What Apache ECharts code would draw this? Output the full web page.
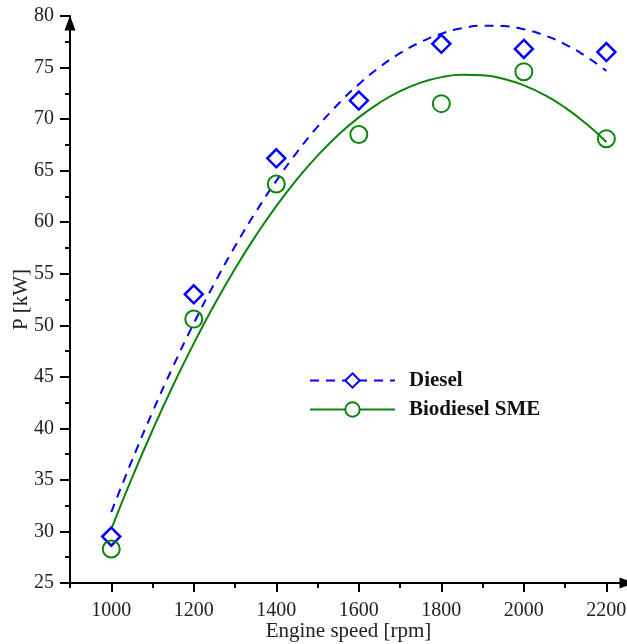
<!DOCTYPE html>
<html>
<head>
<meta charset="utf-8">
<script src="https://cdn.jsdelivr.net/npm/echarts@6/dist/echarts.min.js"></script>
<style>
html,body{margin:0;padding:0;background:#fff;}
#chart{width:627px;height:644px;}
</style>
</head>
<body>
<div id="chart"></div>
<script>
// Measured data points
const speeds = [1000, 1200, 1400, 1600, 1800, 2000, 2200];
const dieselPower = [29.5, 53.0, 66.2, 71.8, 77.3, 76.8, 76.5];
const biodieselPower = [28.3, 50.6, 63.7, 68.5, 71.5, 74.6, 68.1];

// Fitted trend curves, every 50 rpm
const fitSpeeds = [1000, 1050, 1100, 1150, 1200, 1250, 1300, 1350, 1400, 1450, 1500, 1550, 1600,
                   1650, 1700, 1750, 1800, 1850, 1900, 1950, 2000, 2050, 2100, 2150, 2200];
const dieselFit = [31.87, 36.87, 41.59, 46.02, 50.18, 54.06, 57.66, 60.97, 64.01, 66.78, 69.26, 71.46, 73.38,
                   75.02, 76.39, 77.47, 78.28, 78.81, 79.05, 79.02, 78.71, 78.12, 77.25, 76.10, 74.67];
const biodieselFit = [30.23, 35.17, 39.82, 44.18, 48.24, 52.01, 55.49, 58.67, 61.56, 64.15, 66.45, 68.46, 70.17,
                      71.58, 72.71, 73.54, 74.07, 74.31, 74.26, 73.91, 73.27, 72.34, 71.11, 69.59, 67.77];

// Tick values
const xMajorTicks = [1000, 1200, 1400, 1600, 1800, 2000, 2200];
const xMinorTicks = [900, 1100, 1300, 1500, 1700, 1900, 2100];

const BLUE = '#0000ff';
const GREEN = '#0a840a';
const FONT = 'Liberation Serif';

function pairs(xs, ys) { return xs.map((x, i) => [x, ys[i]]); }

const chart = echarts.init(document.getElementById('chart'), null, {renderer: 'canvas'});
chart.setOption({
  animation: false,
  backgroundColor: '#fff',
  grid: {left: 70, right: 0, top: 16, bottom: 61, containLabel: false, outerBoundsMode: 'none'},
  legend: {
    orient: 'vertical',
    left: 304,
    top: 365,
    itemWidth: 85,
    itemHeight: 18,
    itemGap: 8,
    data: ['Diesel', 'Biodiesel SME'],
    textStyle: {fontFamily: FONT, fontWeight: 'bold', fontSize: 21, lineHeight: 18, color: '#111', padding: [0, 0, 0, 9]}
  },
  xAxis: [{
    type: 'value',
    min: 900,
    max: 2250,
    interval: 100,
    position: 'bottom',
    name: 'Engine speed [rpm]',
    nameLocation: 'middle',
    nameGap: 38,
    nameMoveOverlap: false,
    nameTextStyle: {fontFamily: FONT, fontSize: 21, color: '#222'},
    axisLine: {show: true, onZero: false, symbol: ['none', 'triangle'], symbolSize: [11, 15], lineStyle: {color: '#000', width: 2}},
    axisTick: {show: true, customValues: xMajorTicks, length: 9, lineStyle: {color: '#000', width: 2}},
    axisLabel: {customValues: xMajorTicks, formatter: v => String(v), margin: 18, fontFamily: FONT, fontSize: 20, color: '#222'},
    splitLine: {show: false}
  }, {
    type: 'value',
    min: 900,
    max: 2250,
    interval: 100,
    position: 'bottom',
    axisLine: {show: false, onZero: false},
    axisTick: {show: true, customValues: xMinorTicks, length: 5, lineStyle: {color: '#000', width: 2}},
    axisLabel: {show: false},
    splitLine: {show: false}
  }],
  yAxis: {
    type: 'value',
    min: 25,
    max: 80,
    interval: 5,
    name: 'P [kW]',
    nameLocation: 'middle',
    nameGap: 38,
    nameMoveOverlap: false,
    nameTextStyle: {fontFamily: FONT, fontSize: 21, color: '#222'},
    axisLine: {show: true, onZero: false, symbol: ['none', 'triangle'], symbolSize: [11, 15], symbolOffset: [0, -7], lineStyle: {color: '#000', width: 2}},
    axisTick: {show: true, length: 10, lineStyle: {color: '#000', width: 2}},
    minorTick: {show: true, splitNumber: 2, length: 5, lineStyle: {color: '#000', width: 2}},
    axisLabel: {margin: 16, formatter: v => String(v), fontFamily: FONT, fontSize: 20, color: '#222'},
    splitLine: {show: false}
  },
  series: [
    {
      name: 'Diesel',
      type: 'line',
      data: pairs(fitSpeeds, dieselFit),
      smooth: 0.5,
      smoothConstraint: false,
      showSymbol: false,
      symbol: 'diamond',
      symbolSize: 14,
      itemStyle: {color: '#fff', borderColor: BLUE, borderWidth: 2},
      lineStyle: {color: BLUE, width: 2, type: [9, 7]},
      z: 2
    },
    {
      name: 'Biodiesel SME',
      type: 'line',
      data: pairs(fitSpeeds, biodieselFit),
      smooth: 0.5,
      smoothConstraint: false,
      showSymbol: false,
      symbol: 'circle',
      symbolSize: 14,
      itemStyle: {color: '#fff', borderColor: GREEN, borderWidth: 2},
      lineStyle: {color: GREEN, width: 2},
      z: 2
    },
    {
      name: 'Diesel',
      type: 'scatter',
      data: pairs(speeds, dieselPower),
      symbol: 'diamond',
      symbolSize: 18,
      itemStyle: {color: 'rgba(255,255,255,0)', borderColor: BLUE, borderWidth: 2.5, opacity: 1},
      z: 3
    },
    {
      name: 'Biodiesel SME',
      type: 'scatter',
      data: pairs(speeds, biodieselPower),
      symbol: 'circle',
      symbolSize: 17,
      itemStyle: {color: 'rgba(255,255,255,0)', borderColor: GREEN, borderWidth: 2, opacity: 1},
      z: 3
    }
  ]
});
</script>
</body>
</html>
